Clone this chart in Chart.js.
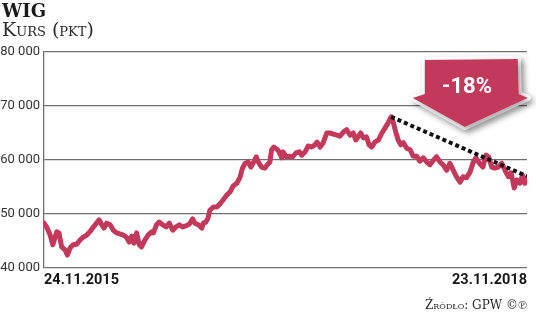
<!DOCTYPE html>
<html>
<head>
<meta charset="utf-8">
<script src="https://cdn.jsdelivr.net/npm/chart.js@4/dist/chart.umd.min.js"></script>
<style>
  html, body { margin: 0; padding: 0; background: #fff; }
  #wrap { position: relative; width: 536px; height: 320px; overflow: hidden; }
  #chart { position: absolute; left: 0; top: 0; }
  .txt { position: absolute; white-space: nowrap; font-family: 'DejaVu Serif', serif; }
  #title { left: 2px; top: 0px; font-size: 18px; font-weight: bold; color: #1a1a1a; }
  #sub { left: 2px; top: 18px; font-size: 19px; font-variant: small-caps; color: #2a2a2a; }
  #src { right: 9px; top: 298px; font-size: 12px; font-variant: small-caps; color: #2a2a2a; }
</style>
</head>
<body>
<div id="wrap">
  <canvas id="chart" width="536" height="320"></canvas>
  <div class="txt" id="title">WIG</div>
  <div class="txt" id="sub">Kurs (pkt)</div>
  <div class="txt" id="src">Źródło: GPW ©℗</div>
</div>
<script>
// WIG, 24.11.2015 - 23.11.2018 (dni od startu, punkty)
var days = [0, 6, 14, 20, 29, 34, 40, 48, 53, 59, 66, 74, 82, 89, 97, 104, 112, 119, 125, 131,
  136, 142, 150, 157, 165, 172, 180, 187, 193, 199, 204, 210, 216, 221, 229, 236, 244, 248, 255, 261,
  269, 277, 284, 292, 299, 307, 314, 322, 329, 337, 342, 350, 358, 361, 367, 372, 376, 384, 392, 399,
  406, 414, 422, 429, 437, 444, 450, 456, 463, 469, 474, 481, 486, 493, 501, 506, 512, 516, 521, 528,
  533, 539, 542, 549, 556, 564, 571, 579, 584, 592, 599, 607, 614, 619, 626, 633, 641, 648, 656, 664,
  671, 679, 686, 694, 701, 707, 713, 718, 724, 731, 737, 743, 750, 758, 766, 773, 781, 787, 792, 798,
  803, 809, 815, 822, 830, 837, 845, 852, 860, 868, 875, 883, 890, 898, 905, 913, 920, 928, 935, 943,
  950, 958, 966, 973, 979, 987, 995, 1002, 1008, 1015, 1022, 1030, 1038, 1045, 1053, 1059, 1066, 1072, 1079, 1085,
  1090, 1095];
var wig = [48300, 47600, 46100, 44300, 46700, 46500, 43900, 43300, 42400, 43700, 44300, 44400, 45200, 45700, 46100, 46700, 47600, 48300, 48900, 48000,
  47400, 48300, 48000, 47000, 46500, 46300, 46100, 45700, 44800, 45900, 44600, 46500, 44300, 43900, 45200, 46100, 46700, 46500, 48000, 48500,
  48000, 47600, 48300, 47000, 47600, 48000, 47600, 47800, 48100, 49100, 48300, 48000, 47400, 48300, 48500, 49300, 50700, 51300, 51300, 51900,
  52600, 53500, 54100, 55200, 55700, 56700, 58500, 59400, 59600, 58700, 59400, 60600, 59600, 58700, 58500, 59100, 59600, 61900, 62400, 62000,
  61500, 60400, 61500, 60600, 60700, 60600, 61300, 61500, 60900, 61500, 62600, 62400, 62800, 63300, 62400, 63200, 65000, 65000, 64800, 64600,
  64400, 65200, 65600, 64600, 65000, 63700, 64400, 65000, 64100, 64300, 62800, 62400, 63300, 63700, 65000, 65900, 67000, 68000, 66900, 65000,
  63700, 62800, 63200, 62200, 61900, 60700, 60700, 59800, 60400, 59600, 59100, 60000, 60600, 59600, 59100, 58100, 59400, 58100, 56900, 55900,
  56900, 56700, 57800, 59600, 60400, 59400, 58700, 60900, 60600, 58700, 58500, 58700, 59400, 58100, 56900, 57600, 54800, 56300, 55700, 57200,
  55700, 56300];

// linia trendu od szczytu do końca
var trendDays = [787, 1095];
var trendValues = [68000, 57000];

var yTicks = [40000, 50000, 60000, 70000, 80000];
var dateLabels = ['24.11.2015', '23.11.2018'];
var dropLabel = '-18%';
var dropTip = { x: 954, y: 66100 }; // grot strzałki w jednostkach danych

var red = '#c3395b';
var gridGray = '#6f6f6f';
var sans = 'Roboto, sans-serif';

function fmt(v) {
  return String(v).replace(/\B(?=(\d{3})+(?!\d))/g, ' ');
}

function toPoints(xs, ys) {
  return xs.map(function (x, i) { return { x: x, y: ys[i] }; });
}

// strzałka z podpisem -18%
var arrowPlugin = {
  id: 'arrow',
  afterDatasetsDraw: function (chart) {
    var ctx = chart.ctx;
    var tx = chart.scales.x.getPixelForValue(dropTip.x);
    var ty = chart.scales.y.getPixelForValue(dropTip.y);
    var pts = [[-40, -67], [53, -68], [54, -33], [63, -29], [0, 0], [-52, -29], [-40, -33]];
    function path() {
      ctx.beginPath();
      pts.forEach(function (p, i) {
        if (i === 0) ctx.moveTo(tx + p[0], ty + p[1]);
        else ctx.lineTo(tx + p[0], ty + p[1]);
      });
      ctx.closePath();
    }
    ctx.save();
    ctx.lineJoin = 'round';
    ctx.shadowColor = 'rgba(0,0,0,0.35)';
    ctx.shadowBlur = 6;
    ctx.shadowOffsetX = 3;
    ctx.shadowOffsetY = 3;
    path();
    ctx.lineWidth = 6;
    ctx.strokeStyle = '#fff';
    ctx.stroke();
    ctx.fillStyle = '#fff';
    ctx.fill();
    ctx.shadowColor = 'transparent';
    path();
    ctx.fillStyle = red;
    ctx.fill();
    ctx.fillStyle = '#fff';
    ctx.font = 'bold 22px ' + sans;
    ctx.textAlign = 'center';
    ctx.textBaseline = 'middle';
    ctx.fillText(dropLabel, tx + 2, ty - 40);
    ctx.restore();
  }
};

new Chart(document.getElementById('chart').getContext('2d'), {
  type: 'line',
  data: {
    datasets: [
      {
        label: 'trend',
        data: toPoints(trendDays, trendValues),
        borderColor: '#111',
        borderWidth: 4,
        borderDash: [4, 3],
        borderCapStyle: 'butt',
        pointRadius: 0,
        fill: false,
        order: 0
      },
      {
        label: 'WIG',
        data: toPoints(days, wig),
        borderColor: red,
        borderWidth: 5,
        borderJoinStyle: 'round',
        borderCapStyle: 'round',
        pointRadius: 0,
        tension: 0,
        fill: false,
        order: 1
      }
    ]
  },
  options: {
    responsive: false,
    animation: false,
    layout: { padding: { top: 52, right: 9, bottom: 22, left: 0 } },
    plugins: { legend: { display: false }, tooltip: { enabled: false } },
    scales: {
      x: {
        type: 'linear',
        min: days[0],
        max: days[days.length - 1],
        grid: { display: false, drawTicks: false },
        border: { display: false },
        afterBuildTicks: function (scale) {
          scale.ticks = [{ value: days[0] }, { value: days[days.length - 1] }];
        },
        afterFit: function (scale) { scale.height = 30; },
        ticks: {
          autoSkip: false,
          maxRotation: 0,
          align: 'inner',
          padding: 4,
          color: '#161616',
          font: { family: sans, size: 14.5, weight: 'bold' },
          callback: function (v, i) { return dateLabels[i]; }
        }
      },
      y: {
        min: yTicks[0],
        max: yTicks[yTicks.length - 1],
        afterBuildTicks: function (scale) {
          scale.ticks = yTicks.map(function (v) { return { value: v }; });
        },
        afterFit: function (scale) { scale.width = 44; },
        grid: { color: gridGray, lineWidth: 1.3, drawTicks: false },
        border: { display: true, color: gridGray, width: 1.3 },
        ticks: {
          padding: 4,
          color: '#333',
          font: { family: sans, size: 13 },
          callback: function (v) { return fmt(v); }
        }
      }
    }
  },
  plugins: [arrowPlugin]
});
</script>
</body>
</html>
